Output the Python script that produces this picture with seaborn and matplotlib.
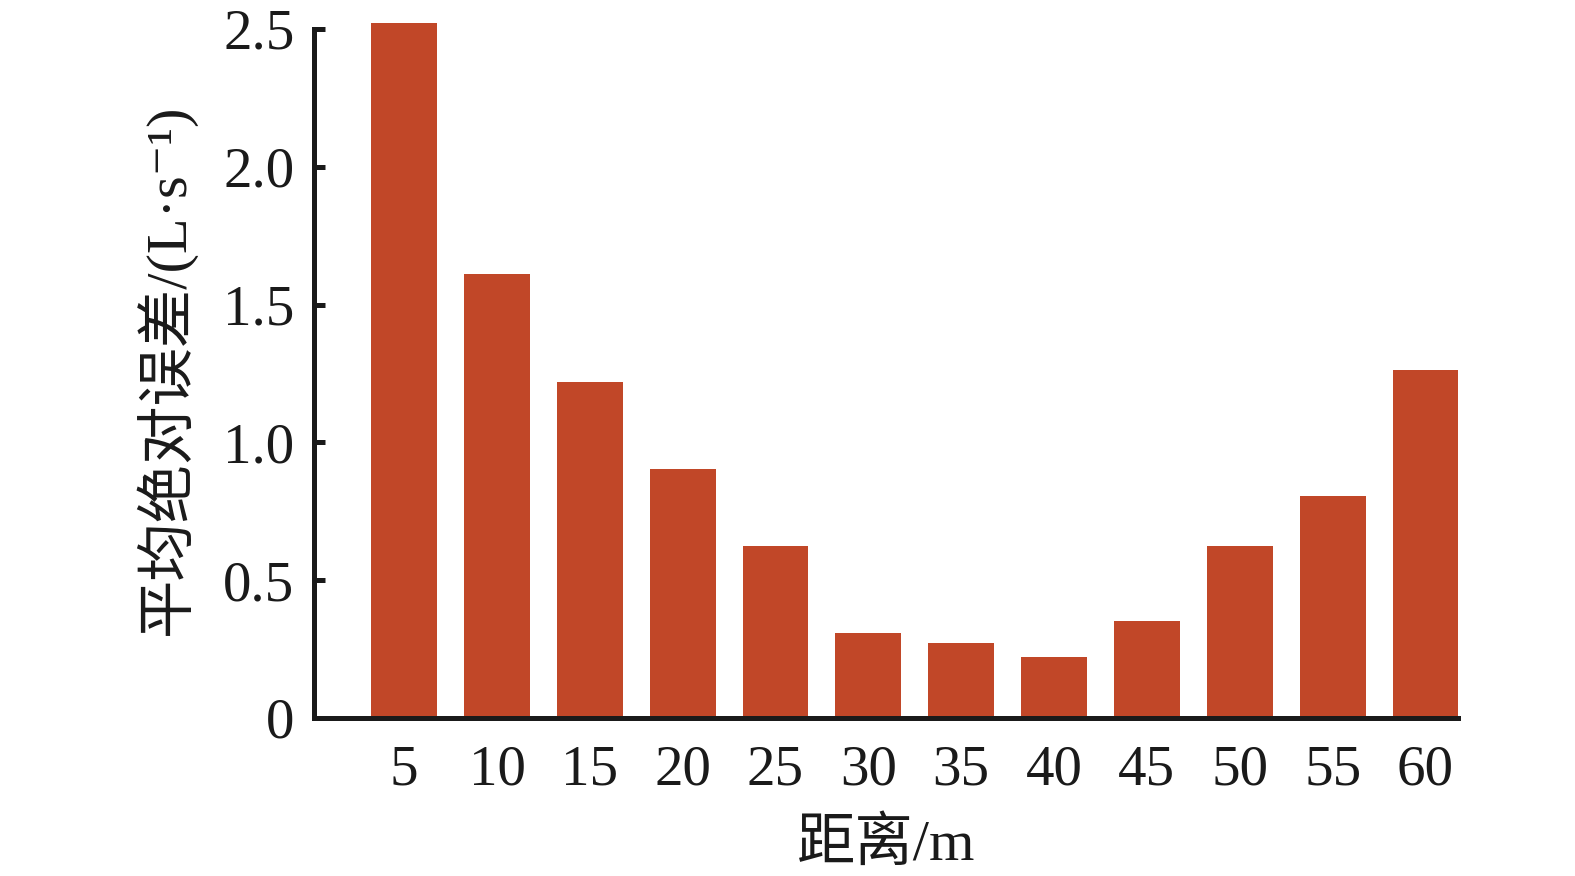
import matplotlib
matplotlib.use("Agg")
import matplotlib.pyplot as plt
import seaborn as sns
import pandas as pd

distances = ["5", "10", "15", "20", "25", "30", "35", "40", "45", "50", "55", "60"]
mae = [2.52, 1.61, 1.22, 0.904, 0.623, 0.31, 0.273, 0.222, 0.353, 0.623, 0.807, 1.261]
yticks = [0, 0.5, 1.0, 1.5, 2.0, 2.5]
ytick_labels = ["0", "0.5", "1.0", "1.5", "2.0", "2.5"]
xlabel = "距离/m"
ylabel = "平均绝对误差/(L·s⁻¹)"

sns.set_theme(style="white")
fams = ["Liberation Serif", "Noto Sans CJK SC", "DejaVu Sans"]
plt.rcParams["font.family"] = fams

df = pd.DataFrame({"distance": distances, "mae": mae})

fig = plt.figure(figsize=(15.75, 8.76), dpi=100)
ax = fig.add_axes([0.1994, 0.1804, 0.9257 - 0.1994, 0.9764 - 0.1804])
sns.barplot(data=df, x="distance", y="mae", order=distances, color="#C14728",
            saturation=1, width=0.71, edgecolor="none", linewidth=0, ax=ax)

ax.set_xlim(-0.97, 11.35)
ax.set_ylim(0, 2.53)
ax.set_yticks(yticks)
ax.set_yticklabels(ytick_labels)
for s in ["top", "right"]:
    ax.spines[s].set_visible(False)
for s in ["left", "bottom"]:
    ax.spines[s].set_linewidth(3.6)
    ax.spines[s].set_color("#1a1a1a")
ax.spines["left"].set_bounds(0, 2.5)
ax.tick_params(axis="y", left=True, direction="in", length=8, width=3.6, color="#1a1a1a",
               labelsize=41, pad=14, labelcolor="#1a1a1a")
ax.tick_params(axis="x", bottom=False, length=0, labelsize=41, pad=19, labelcolor="#1a1a1a")
for lab in ax.get_xticklabels() + ax.get_yticklabels():
    lab.set_family(fams)

ax.set_xlabel(xlabel, fontsize=42, family=fams, color="#1a1a1a", labelpad=15)
ax.set_ylabel(ylabel, fontsize=42, family=fams, color="#1a1a1a", labelpad=20)
ax.grid(False)

fig.savefig("out.png", dpi=100)
